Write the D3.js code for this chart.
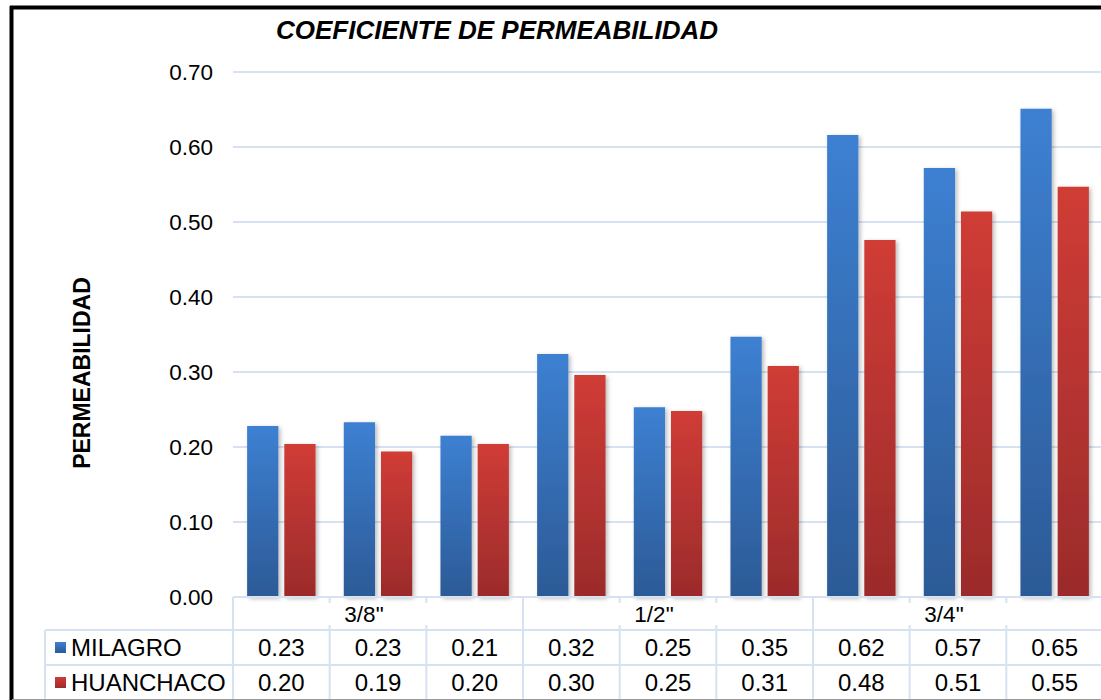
<!DOCTYPE html>
<html>
<head>
<meta charset="utf-8">
<script src="https://cdn.jsdelivr.net/npm/d3@7/dist/d3.min.js"></script>
<style>
  html, body { margin: 0; padding: 0; background: #fff; }
  svg { display: block; font-family: "Liberation Sans", Arial, sans-serif; }
</style>
</head>
<body>
<svg id="chart" width="1101" height="700"></svg>
<script>
// Aggregate sizes and the samples measured for each one
const groups = ['3/8"', '1/2"', '3/4"'];
const categories = ["3/8-1", "3/8-2", "3/8-3", "1/2-1", "1/2-2", "1/2-3", "3/4-1", "3/4-2", "3/4-3"];
const categoryGroup = ['3/8"', '3/8"', '3/8"', '1/2"', '1/2"', '1/2"', '3/4"', '3/4"', '3/4"'];
const seriesNames = ["MILAGRO", "HUANCHACO"];
const milagro   = [0.228, 0.233, 0.215, 0.324, 0.253, 0.347, 0.616, 0.572, 0.651];
const huanchaco = [0.204, 0.194, 0.204, 0.296, 0.248, 0.308, 0.476, 0.514, 0.547];
const yTicks = [0, 0.1, 0.2, 0.3, 0.4, 0.5, 0.6, 0.7];

const seriesValues = { MILAGRO: milagro, HUANCHACO: huanchaco };
const seriesColors = {
  MILAGRO:   { top: "#3d80d2", bottom: "#2c5a96" },
  HUANCHACO: { top: "#d03c36", bottom: "#9b2b2b" }
};

const svg = d3.select("#chart");
const gridColor = "#d6e1f1";
const font = "Liberation Sans, Arial, sans-serif";

svg.append("rect").attr("width", 1101).attr("height", 700).attr("fill", "#fff");

const defs = svg.append("defs");
seriesNames.forEach((s, i) => {
  const g = defs.append("linearGradient").attr("id", "grad" + i)
    .attr("x1", 0).attr("y1", 0).attr("x2", 0).attr("y2", 1);
  g.append("stop").attr("offset", "0%").attr("stop-color", seriesColors[s].top);
  g.append("stop").attr("offset", "100%").attr("stop-color", seriesColors[s].bottom);
});
const shadow = defs.append("filter").attr("id", "shadow")
  .attr("x", "-20%").attr("y", "-5%").attr("width", "150%").attr("height", "115%");
shadow.append("feDropShadow").attr("dx", 2).attr("dy", 1.5)
  .attr("stdDeviation", 2.2).attr("flood-color", "#000").attr("flood-opacity", 0.28);

// Plot geometry
const plotLeft = 233, plotRight = 1103, plotTop = 72, plotBottom = 597;
const headerBottom = 630, rowMid = 665, tableBottom = 700, tableLeft = 45;

const x = d3.scaleBand().domain(categories).range([plotLeft, plotRight]).padding(0);
const x1 = d3.scaleBand().domain(seriesNames).range([0, x.bandwidth()])
  .paddingInner(0.16).paddingOuter(0.38);
const y = d3.scaleLinear().domain([0, 0.7]).range([plotBottom, plotTop]);

// Gridlines
svg.append("g").selectAll("line").data(yTicks).join("line")
  .attr("x1", plotLeft).attr("x2", plotRight)
  .attr("y1", d => y(d)).attr("y2", d => y(d))
  .attr("stroke", gridColor).attr("stroke-width", 2);

// Y axis labels
const yAxis = d3.axisLeft(y).tickValues(yTicks).tickFormat(d3.format(".2f")).tickSize(0).tickPadding(20);
const yg = svg.append("g").attr("transform", `translate(${plotLeft},0)`).call(yAxis);
yg.select(".domain").remove();
yg.selectAll("text").attr("font-size", 22.5).attr("font-family", font).attr("fill", "#000");

// Bars
const barG = svg.append("g");
seriesNames.forEach((s, i) => {
  barG.append("g").selectAll("rect").data(seriesValues[s]).join("rect")
    .attr("x", (d, k) => x(categories[k]) + x1(s))
    .attr("width", x1.bandwidth())
    .attr("y", d => y(d))
    .attr("height", d => y(0) - y(d))
    .attr("fill", `url(#grad${i})`)
    .attr("filter", "url(#shadow)");
});

// Category axis (group header row)
const lineG = svg.append("g").attr("stroke", gridColor).attr("stroke-width", 2);
lineG.append("line").attr("x1", plotLeft).attr("x2", plotRight).attr("y1", plotBottom).attr("y2", plotBottom);
categories.forEach((c, k) => {
  const xx = x(c);
  const isGroupStart = k === 0 || categoryGroup[k] !== categoryGroup[k - 1];
  if (isGroupStart) {
    lineG.append("line").attr("x1", xx).attr("x2", xx).attr("y1", plotBottom).attr("y2", headerBottom);
  } else {
    lineG.append("line").attr("x1", xx).attr("x2", xx).attr("y1", plotBottom).attr("y2", plotBottom + 6);
    lineG.append("line").attr("x1", xx).attr("x2", xx).attr("y1", headerBottom - 5).attr("y2", headerBottom);
  }
});
groups.forEach(gname => {
  const members = categories.filter((c, k) => categoryGroup[k] === gname);
  const cx = (x(members[0]) + x(members[members.length - 1]) + x.bandwidth()) / 2 - 14;
  svg.append("text").attr("x", cx).attr("y", 622).attr("text-anchor", "middle")
    .attr("font-size", 22.5).attr("font-family", font).text(gname);
});

// Data table
lineG.append("line").attr("x1", tableLeft).attr("x2", plotRight).attr("y1", headerBottom).attr("y2", headerBottom);
lineG.append("line").attr("x1", tableLeft).attr("x2", plotRight).attr("y1", rowMid).attr("y2", rowMid);
lineG.append("line").attr("x1", tableLeft).attr("x2", tableLeft).attr("y1", headerBottom).attr("y2", tableBottom);
categories.forEach(c => {
  lineG.append("line").attr("x1", x(c)).attr("x2", x(c)).attr("y1", headerBottom).attr("y2", tableBottom);
});

const fmt = d3.format(".2f");
const rowCenters = [(headerBottom + rowMid) / 2, (rowMid + tableBottom) / 2];
seriesNames.forEach((s, i) => {
  const cy = rowCenters[i];
  svg.append("rect").attr("x", 55).attr("y", cy - 5.5).attr("width", 11).attr("height", 11)
    .attr("fill", `url(#grad${i})`);
  svg.append("text").attr("x", 71).attr("y", cy + 8.5).attr("font-size", 24)
    .attr("font-family", font).text(s);
  svg.append("g").selectAll("text").data(seriesValues[s]).join("text")
    .attr("x", (d, k) => x(categories[k]) + x.bandwidth() / 2)
    .attr("y", cy + 8.5).attr("text-anchor", "middle")
    .attr("font-size", 24).attr("font-family", font).text(d => fmt(d));
});

// Title and axis title
svg.append("text").attr("x", 497).attr("y", 39).attr("text-anchor", "middle")
  .attr("font-size", 26).attr("font-weight", "bold").attr("font-style", "italic")
  .attr("font-family", font).text("COEFICIENTE DE PERMEABILIDAD");
svg.append("text").attr("transform", "translate(90,373) rotate(-90)")
  .attr("text-anchor", "middle").attr("font-size", 23).attr("font-weight", "bold")
  .attr("font-family", font).text("PERMEABILIDAD");

// Outer frame
svg.append("line").attr("x1", 11.5).attr("x2", 11.5).attr("y1", 6).attr("y2", 700)
  .attr("stroke", "#000").attr("stroke-width", 4);
svg.append("line").attr("x1", 10).attr("x2", 1101).attr("y1", 7.5).attr("y2", 7.5)
  .attr("stroke", "#000").attr("stroke-width", 4);
svg.append("line").attr("x1", 12).attr("x2", 1101).attr("y1", 699.5).attr("y2", 699.5)
  .attr("stroke", "#9a9a9a").attr("stroke-width", 1);
</script>
</body>
</html>
